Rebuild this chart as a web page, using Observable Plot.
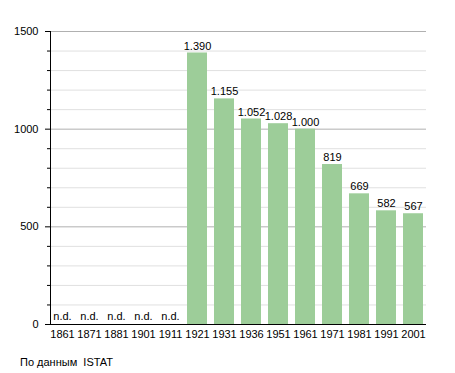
<!DOCTYPE html>
<html>
<head>
<meta charset="utf-8">
<script src="https://cdn.jsdelivr.net/npm/d3@7"></script>
<script src="https://cdn.jsdelivr.net/npm/@observablehq/plot@0.6"></script>
<style>
  body { margin: 0; background: #fff; font-family: "Liberation Sans", Arial, sans-serif; }
  #chart svg { display: block; }
  #caption { font-size: 11px; color: #000; padding-left: 20px; margin-top: 8px; white-space: pre; }
</style>
</head>
<body>
<div id="chart"></div>
<div id="caption">По данным  ISTAT</div>
<script>
const years = ["1861","1871","1881","1901","1911","1921","1931","1936","1951","1961","1971","1981","1991","2001"];
const population = [null,null,null,null,null,1390,1155,1052,1028,1000,819,669,582,567];
const majorTicks = [0, 500, 1000, 1500];
const minorTicks = [100,200,300,400,600,700,800,900,1100,1200,1300,1400];

const data = years.map((year, i) => ({year, value: population[i]}));
const known = data.filter(d => d.value != null);
const missing = data.filter(d => d.value == null);
const fmt = d3.formatLocale({decimal: ",", thousands: ".", grouping: [3], currency: ["", ""]}).format(",");

const plot = Plot.plot({
  width: 455,
  height: 348,
  marginTop: 31,
  marginBottom: 24,
  marginLeft: 50,
  marginRight: 29,
  style: {fontFamily: "Liberation Sans, Arial, sans-serif", fontSize: "11px", color: "#000"},
  x: {domain: years, range: [49, 426], paddingInner: 0.25, paddingOuter: 0, label: null},
  y: {domain: [0, 1500], label: null},
  marks: [
    Plot.ruleY(minorTicks, {stroke: "#e0e0e0"}),
    Plot.ruleY([500, 1000, 1500], {stroke: "#b0b0b0"}),
    Plot.barY(known, {x: "year", y: "value", fill: "#9dcd99"}),
    Plot.text(known, {x: "year", y: "value", text: d => fmt(d.value), dy: -7, fontSize: 11}),
    Plot.text(missing, {x: "year", y: () => 0, text: () => "n.d.", dy: -8, fontSize: 11}),
    Plot.axisY({ticks: minorTicks, tickSize: 3, tickFormat: () => "", strokeOpacity: 1}),
    Plot.axisY({ticks: majorTicks, tickSize: 5, tickPadding: 7, tickFormat: d => String(d), fontSize: 11, strokeOpacity: 1}),
    Plot.axisX({tickSize: 0, tickPadding: 6, fontSize: 11}),
    Plot.ruleY([0], {stroke: "#000"}),
    Plot.frame({anchor: "left", stroke: "#000"})
  ]
});
document.getElementById("chart").appendChild(plot);
</script>
</body>
</html>
